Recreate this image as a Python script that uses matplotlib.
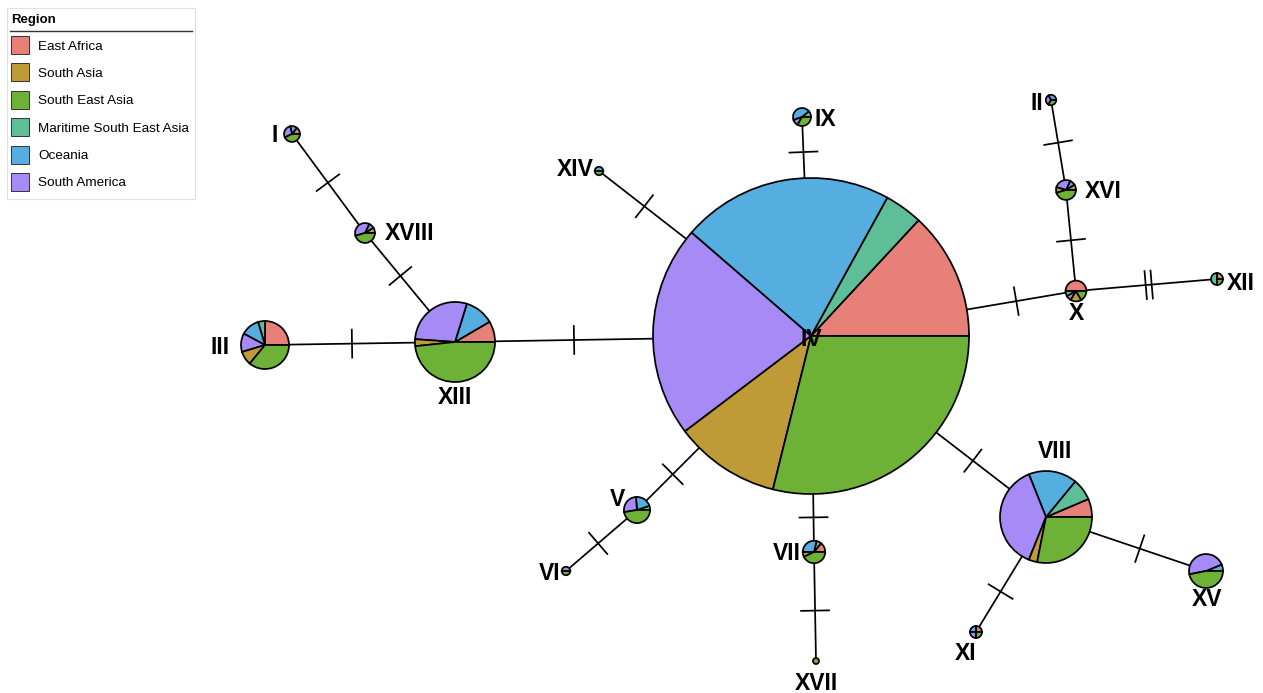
import numpy as np
import matplotlib.pyplot as plt
from matplotlib.patches import Rectangle

plt.rcParams["font.family"] = ["Liberation Sans", "DejaVu Sans"]

# === DATA ===

regions = ["East Africa", "South Asia", "South East Asia",
           "Maritime South East Asia", "Oceania", "South America"]
region_colors = ["#E8807A", "#BF9B37", "#6DB236", "#5DBE98", "#55ADE0", "#A68AF5"]

# wedges go counter-clockwise from 3 o'clock in this order
slice_order = ["East Africa", "Maritime South East Asia", "Oceania",
               "South America", "South Asia", "South East Asia"]

haplotypes = ["I", "II", "III", "IV", "V", "VI", "VII", "VIII", "IX",
              "X", "XI", "XII", "XIII", "XIV", "XV", "XVI", "XVII", "XVIII"]

# sample counts per haplotype and region
east_africa   = [1, 0, 16, 363, 0, 0, 2, 15, 0, 6, 1, 1, 15, 0, 0, 1, 0, 1]
south_asia    = [0, 0, 6, 300, 0, 0, 1, 7, 0, 2, 0, 0, 5, 0, 0, 1, 0, 0]
south_east    = [3, 1, 23, 801, 9, 1, 6, 66, 3, 2, 1, 1, 86, 1, 15, 5, 1, 5]
maritime_sea  = [0, 0, 3, 108, 1, 0, 1, 18, 1, 1, 0, 2, 0, 0, 0, 0, 0, 0]
oceania       = [1, 1, 8, 601, 4, 0, 4, 40, 4, 0, 1, 0, 21, 1, 2, 1, 0, 1]
south_america = [2, 1, 8, 601, 5, 1, 0, 89, 1, 1, 1, 0, 51, 0, 15, 3, 0, 4]

# (from, to, mutations)
edges = [("I", "XVIII", 1), ("XVIII", "XIII", 1), ("III", "XIII", 1),
         ("XIII", "IV", 1), ("XIV", "IV", 1), ("IX", "IV", 1),
         ("IV", "X", 1), ("X", "XVI", 1), ("XVI", "II", 1), ("X", "XII", 2),
         ("IV", "VIII", 1), ("VIII", "XV", 1), ("VIII", "XI", 1),
         ("IV", "V", 1), ("V", "VI", 1), ("IV", "VII", 1), ("VII", "XVII", 1)]

# === LAYOUT (pixels, origin top-left) ===

pos = {"I": (292, 134), "II": (1051, 100), "III": (265, 345), "IV": (811, 336),
       "V": (637, 510), "VI": (566, 571), "VII": (814, 552), "VIII": (1046, 517),
       "IX": (802, 117), "X": (1076, 291), "XI": (976, 632), "XII": (1217, 279),
       "XIII": (455, 342), "XIV": (599, 171), "XV": (1206, 571), "XVI": (1066, 190),
       "XVII": (816, 661), "XVIII": (365, 233)}

label_pos = {"I": (275, 133), "II": (1037, 101), "III": (220, 346), "IV": (811, 337),
             "V": (617, 498), "VI": (550, 571), "VII": (787, 552), "VIII": (1055, 450),
             "IX": (825, 118), "X": (1076, 312), "XI": (966, 652), "XII": (1241, 281),
             "XIII": (455, 396), "XIV": (575, 167), "XV": (1207, 597), "XVI": (1103, 189),
             "XVII": (816, 681), "XVIII": (410, 232)}

W, H = 1263, 693
px_per_sqrt = 3.0

counts = np.array([east_africa, south_asia, south_east,
                   maritime_sea, oceania, south_america]).T
order_idx = [regions.index(r) for r in slice_order]
radius = {h: px_per_sqrt * np.sqrt(counts[i].sum()) for i, h in enumerate(haplotypes)}

fig = plt.figure(figsize=(W / 100, H / 100), dpi=100)
ax = fig.add_axes([0, 0, 1, 1])

# --- edges + mutation ticks ---
for a, b, n_mut in edges:
    pa, pb = np.array(pos[a], float), np.array(pos[b], float)
    ax.plot([pa[0], pb[0]], [pa[1], pb[1]], color="black", lw=1.25, zorder=1)
    d = pb - pa
    dist = np.hypot(*d)
    u = d / dist
    perp = np.array([-u[1], u[0]])
    mid = pa + u * (radius[a] + (dist - radius[a] - radius[b]) / 2)
    for k in range(n_mut):
        c = mid + u * (k - (n_mut - 1) / 2) * 6
        p1, p2 = c - perp * 14, c + perp * 14
        ax.plot([p1[0], p2[0]], [p1[1], p2[1]], color="black", lw=1.25, zorder=1)

# --- pies ---
for i, h in enumerate(haplotypes):
    vals = [counts[i][j] for j in order_idx if counts[i][j] > 0]
    cols = [region_colors[j] for j in order_idx if counts[i][j] > 0]
    wedges, _ = ax.pie(vals, colors=cols, center=pos[h], radius=radius[h],
                       startangle=0, counterclock=False, frame=True,
                       wedgeprops=dict(edgecolor="black", linewidth=1.25))
    for w in wedges:
        w.set_zorder(2)
    lx, ly = label_pos[h]
    ax.text(lx, ly + 8.5, h, ha="center", va="baseline", fontsize=16.5,
            fontweight="bold", color="black", zorder=3)

# --- legend ---
ax.add_patch(Rectangle((7, 8), 188, 191, facecolor="white",
                       edgecolor="#e0e0e0", lw=0.8, zorder=4))
ax.text(11, 23, "Region", fontsize=9.5, fontweight="bold", va="baseline", zorder=5)
ax.plot([10, 192], [30.5, 30.5], color="#333333", lw=1.0, zorder=5)
for k, (name, col) in enumerate(zip(regions, region_colors)):
    yc = 45 + 27.4 * k
    ax.add_patch(Rectangle((11, yc - 9), 18, 18, facecolor=col,
                           edgecolor="#333333", lw=0.7, zorder=5))
    ax.text(38, yc + 4.5, name, fontsize=9.7, va="baseline", zorder=5)

ax.set_xlim(0, W)
ax.set_ylim(H, 0)
ax.set_aspect("equal")
ax.axis("off")

fig.savefig("out.png", dpi=100, facecolor="white")
